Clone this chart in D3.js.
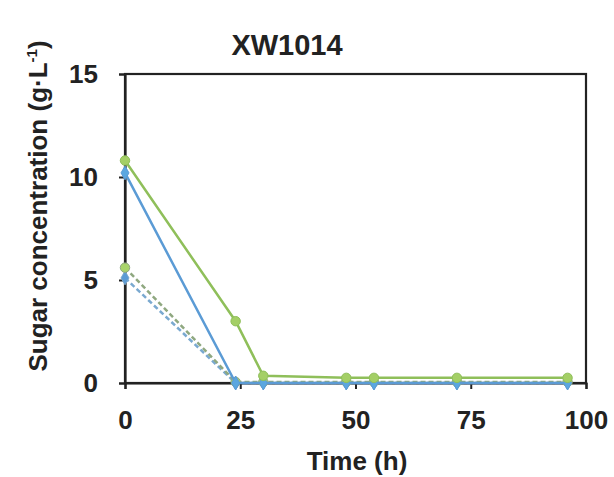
<!DOCTYPE html>
<html><head><meta charset="utf-8">
<script src="https://cdn.jsdelivr.net/npm/d3@7"></script>
<style>body{margin:0;background:#fff;}svg{display:block;font-family:Arial,"Liberation Sans",sans-serif;}</style>
</head><body><svg id="c" width="614" height="477"></svg>
<script>
const title = "XW1014";
const xTicks = [0, 25, 50, 75, 100];
const yTicks = [0, 5, 10, 15];
const timeGluHigh = [0, 24, 30, 48, 54, 72, 96];
const glucoseHigh = [10.2, 0, 0, 0, 0, 0, 0];
const timeXylHigh = [0, 24, 30, 48, 54, 72, 96];
const xyloseHigh = [10.8, 3.0, 0.35, 0.25, 0.25, 0.25, 0.25];
const timeGluLow = [0, 24, 30, 48, 54, 72, 96];
const glucoseLow = [5.1, 0, 0, 0, 0, 0, 0];
const timeXylLow = [0, 24, 30, 48, 54, 72, 96];
const xyloseLow = [5.6, 0.05, 0.05, 0.05, 0.05, 0.05, 0.05];

const series = [
  {t: timeGluLow, v: glucoseLow, color: "#7aa9d0", dash: "5,3", shape: "diamond", mfill: "#5b9bd5"},
  {t: timeXylLow, v: xyloseLow, color: "#8fa880", dash: "5,3", shape: "circle", mfill: "#a9d46a"},
  {t: timeGluHigh, v: glucoseHigh, color: "#5b9bd5", dash: null, shape: "diamond", mfill: "#5ba7e0"},
  {t: timeXylHigh, v: xyloseHigh, color: "#8fbf5a", dash: null, shape: "circle", mfill: "#a4cf66"}
];

const svg = d3.select("#c");
const x = d3.scaleLinear().domain([0, 100]).range([125, 586]);
const y = d3.scaleLinear().domain([0, 15]).range([383, 74]);

svg.append("rect").attr("x", 125).attr("y", 74).attr("width", 461).attr("height", 309)
  .attr("fill", "none").attr("stroke", "#222").attr("stroke-width", 2.2);

const xAxis = svg.append("g").attr("transform", "translate(0,383)")
  .call(d3.axisBottom(x).tickValues(xTicks).tickSize(6).tickFormat(d3.format("d")));
const yAxis = svg.append("g").attr("transform", "translate(125,0)")
  .call(d3.axisLeft(y).tickValues(yTicks).tickSize(6).tickFormat(d3.format("d")));
[xAxis, yAxis].forEach(a => {
  a.select(".domain").attr("stroke", "#222").attr("stroke-width", 2.2);
  a.selectAll(".tick line").attr("stroke", "#222").attr("stroke-width", 2);
  a.selectAll(".tick text").attr("fill", "#222").attr("font-size", 26).attr("font-weight", "bold")
    .attr("font-family", "Arial, 'Liberation Sans', sans-serif");
});
xAxis.selectAll(".tick text").attr("dy", "0.71em").attr("y", 28);
yAxis.selectAll(".tick text").attr("x", -27);

const line = d3.line().x(d => x(d[0])).y(d => y(d[1]));
series.forEach(s => {
  const pts = s.t.map((t, i) => [t, s.v[i]]);
  svg.append("path").datum(pts).attr("d", line).attr("fill", "none")
    .attr("stroke", s.color).attr("stroke-width", 2.5)
    .attr("stroke-dasharray", s.dash);
  const sym = d3.symbol().type(s.shape === "circle" ? d3.symbolCircle : d3.symbolDiamond).size(s.shape === "circle" ? 70 : 55);
  svg.append("g").selectAll("path").data(pts).join("path")
    .attr("transform", d => `translate(${x(d[0])},${y(d[1])})`)
    .attr("d", sym).attr("fill", s.mfill).attr("stroke", s.color).attr("stroke-width", 1);
});

svg.append("text").attr("x", 287).attr("y", 55).attr("text-anchor", "middle")
  .attr("font-size", 29).attr("font-weight", "bold").attr("fill", "#222").text(title);

svg.append("text").attr("x", 357).attr("y", 470).attr("text-anchor", "middle")
  .attr("font-size", 26).attr("font-weight", "bold").attr("fill", "#222").text("Time (h)");

const yl = svg.append("text").attr("transform", "translate(47,206) rotate(-90)")
  .attr("text-anchor", "middle").attr("font-size", 26).attr("font-weight", "bold").attr("fill", "#222");
yl.append("tspan").text("Sugar concentration (g·L");
yl.append("tspan").attr("font-size", 15).attr("dy", -10).text("-1");
yl.append("tspan").attr("dy", 10).text(")");
</script></body></html>
